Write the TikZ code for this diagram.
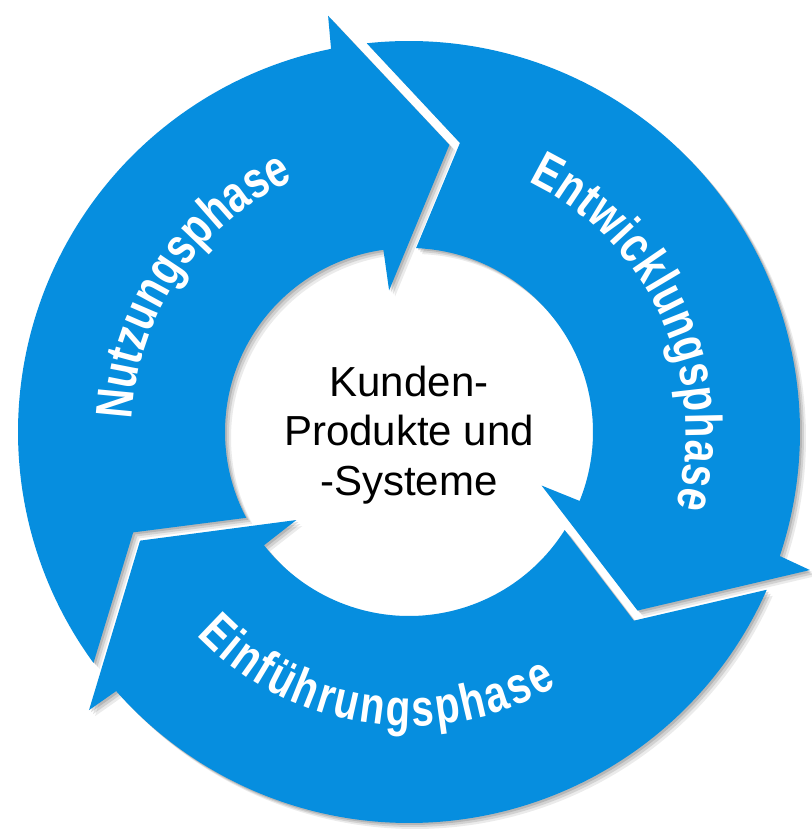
\documentclass[tikz,border=0pt]{standalone}
\usepackage{fontspec}
\setmainfont{Liberation Sans}
\newfontfamily\phasefont{Liberation Sans}[FakeStretch=0.78]
\usetikzlibrary{decorations.text}
\definecolor{cycleblue}{RGB}{6,142,223}
\definecolor{shadowgray}{RGB}{60,60,60}
\tikzset{
  phasetext/.style={decorate, decoration={text along path, text color=white,
      text={|\phasefont\bfseries\fontsize{38.8}{40}\selectfont|#1},
      text align={fit to path}}},
  centertext/.style={font=\fontsize{31.5}{37.1}\selectfont, align=center, inner sep=0pt, text=black}
}
\begin{document}
\begin{tikzpicture}[x=0.75pt, y=0.75pt]
  \fill[white] (-409,-402) rectangle (403,432);
  \useasboundingbox (-409,-402) rectangle (403,432);
  % shadows
  \foreach \k in {0,120,240}{
    \foreach \s/\o in {1.5/0.18, 3/0.14, 4.5/0.10}{
      \fill[shadowgray, opacity=\o, transform canvas={xshift=\s pt, yshift=-\s pt}]
        ({216.2-\k}:391) arc[start angle={216.2-\k}, end angle={101.5-\k}, radius=391]
        -- ({101-\k}:424) -- ({82-\k}:290) -- ({98-\k}:143) -- ({98-\k}:184)
        arc[start angle={98-\k}, end angle={207.8-\k}, radius=184]
        -- ({200-\k}:293.5) -- cycle;
    }
  }
  % arrows
  \foreach \k in {0,120,240}{
    \fill[cycleblue]
      ({216.2-\k}:391) arc[start angle={216.2-\k}, end angle={101.5-\k}, radius=391]
      -- ({101-\k}:424) -- ({82-\k}:290) -- ({98-\k}:143) -- ({98-\k}:184)
      arc[start angle={98-\k}, end angle={207.8-\k}, radius=184]
      -- ({200-\k}:293.5) -- cycle;
  }
  % labels along the arrows
  \path[phasetext=Nutzungsphase] (177.5:277) arc[start angle=177.5, end angle=114.6, radius=277];
  \path[phasetext=Entwicklungsphase] (64.5:277) arc[start angle=64.5, end angle=-15.7, radius=277];
  \path[phasetext=Einführungsphase] (-136.3:294) arc[start angle=-136.3, end angle=-59.8, radius=294];
  % centre text
  \node[centertext] (centre) at (0,-3) {Kunden-\\Produkte und\\-Systeme};
\end{tikzpicture}
\end{document}
